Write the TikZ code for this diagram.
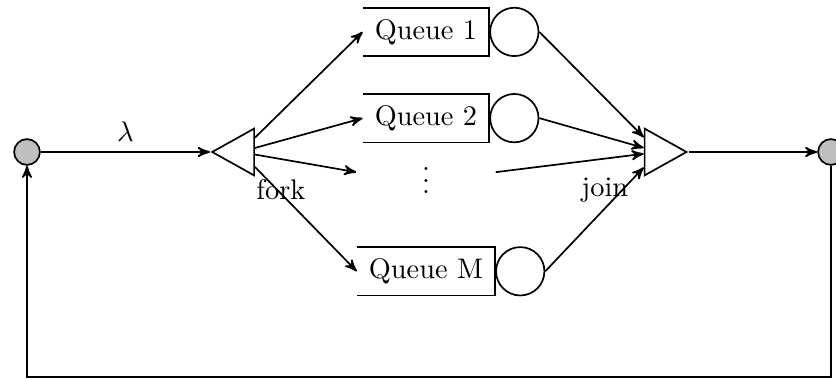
\documentclass[tikz,border=0pt]{standalone}
\usetikzlibrary{shapes.geometric,arrows}
\begin{document}
\begin{tikzpicture}[>=stealth', semithick,
    station/.style={circle, draw, fill=gray!50, minimum size=0.32cm, inner sep=0pt},
    queue/.style={minimum height=0.58cm, inner xsep=4pt},
    server/.style={circle, draw, minimum size=0.6cm, inner sep=0pt, anchor=west},
    split/.style={isosceles triangle, isosceles triangle stretches, draw, minimum width=0.58cm, minimum height=0.52cm, inner sep=0pt}]
\useasboundingbox (-0.335,-2.816) rectangle (10.037,1.886);
\node[station] (src) at (0.0,0.0) {};
\node[station] (sink) at (9.975,0.0) {};
\node[split, shape border rotate=180, anchor=apex] (fork) at (2.27,0.0) {};
\node[split, anchor=apex] (join) at (8.21,0.0) {};
\node (forktxt) at (3.15,-0.47) {fork};
\node (jointxt) at (7.17,-0.47) {join};
% queues and their servers
\node[queue] (q1) at (4.95,1.49) {Queue 1};
\node[queue] (q2) at (4.95,0.42) {Queue 2};
\node[queue, minimum width=1.71cm] (dots) at (4.95,-0.25) {$\vdots$};
\node[queue] (qm) at (4.95,-1.48) {Queue M};
\node[server] (s1) at (q1.east) {};
\node[server] (s2) at (q2.east) {};
\node[server] (sm) at (qm.east) {};
\foreach \q in {q1,q2,qm}
    \draw (\q.north west) -- (\q.north east) -- (\q.south east) -- (\q.south west);
\draw[->] (src) -- node[above] {$\lambda$} (fork);
\foreach \q in {q1,q2,dots,qm}
    \draw[->] (fork) -- (\q.west);
\foreach \s in {s1,s2,dots,sm}
    \draw[->] (\s.east) -- (join);
\draw[->] (join) -- (sink);
% feedback loop
\coordinate (back) at (0.0,-2.79);
\draw[->] (sink.south) |- (back) -- (src.south);
\end{tikzpicture}
\end{document}
